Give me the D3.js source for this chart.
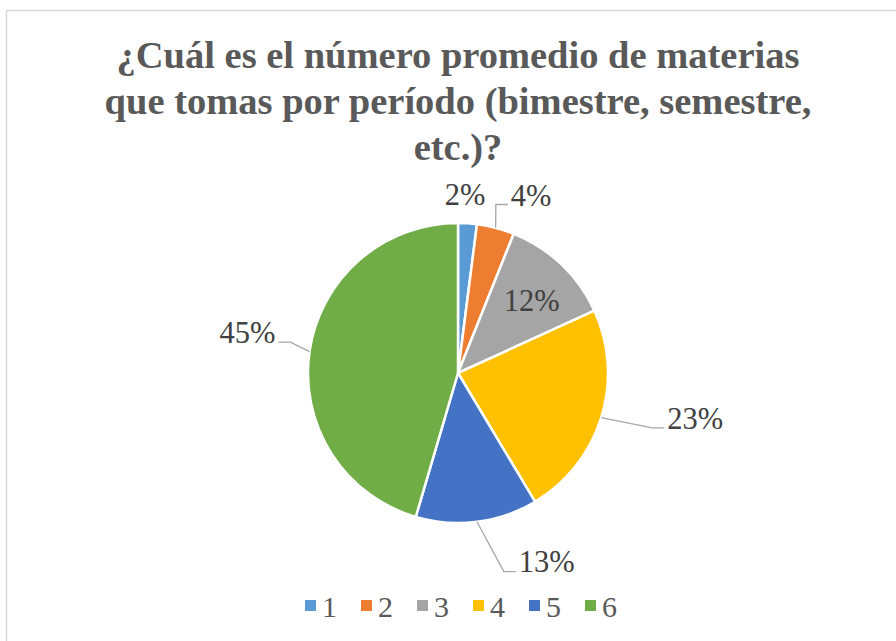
<!DOCTYPE html>
<html>
<head>
<meta charset="utf-8">
<script src="https://cdn.jsdelivr.net/npm/d3@7"></script>
<style>
  html, body { margin: 0; padding: 0; background: #fff; }
  svg { display: block; }
</style>
</head>
<body>
<svg id="chart" width="896" height="641"></svg>
<script>
// ---- data ----
const categories = ["1", "2", "3", "4", "5", "6"];
const values = [2, 4, 12, 23, 13, 45];
const labels = ["2%", "4%", "12%", "23%", "13%", "45%"];
const colors = ["#5b9bd5", "#ed7d31", "#a5a5a5", "#ffc000", "#4472c4", "#70ad47"];
const titleLines = ["¿Cuál es el número promedio de materias", "que tomas por período (bimestre, semestre,", "etc.)?"];

// ---- layout (label placement: radius factor, angle in degrees) ----
const labelLayout = [
  { rf: 1.19, ang: 2.3,   leader: false },
  { rf: 1.28, ang: 22.4,  leader: true, side: "right" },
  { rf: 0.69, ang: 45.4,  leader: false },
  { rf: 1.61, ang: 100.7, leader: true, side: "right" },
  { rf: 1.39, ang: 154.8, leader: true, side: "right" },
  { rf: 1.43, ang: 281.0, leader: true, side: "left" }
];

const FONT = "'Liberation Serif', 'Times New Roman', serif";
const svg = d3.select("#chart");
const W = 896, H = 641;

svg.append("rect").attr("x", 6.5).attr("y", 10.5).attr("width", W).attr("height", H)
  .attr("fill", "#fff").attr("stroke", "#d9d9d9").attr("stroke-width", 1.5);

const title = svg.append("text").attr("text-anchor", "middle")
  .attr("font-family", FONT)
  .attr("font-weight", "bold").attr("font-size", 38.5).attr("fill", "#595959");
titleLines.forEach((t, i) => {
  title.append("tspan").attr("x", 458).attr("y", 68 + i * 46).text(t);
});

const cx = 458, cy = 373, R = 150;
const g = svg.append("g").attr("transform", `translate(${cx},${cy})`);

const pie = d3.pie().sort(null).value(d => d)(values);
const arc = d3.arc().innerRadius(0).outerRadius(R);

g.selectAll("path.slice").data(pie).enter().append("path")
  .attr("class", "slice")
  .attr("d", arc)
  .attr("fill", (d, i) => colors[i])
  .attr("stroke", "#fff").attr("stroke-width", 2.5).attr("stroke-linejoin", "round");

const rad = a => a * Math.PI / 180;
pie.forEach((d, i) => {
  const L = labelLayout[i];
  const lx = L.rf * R * Math.sin(rad(L.ang));
  const ly = -L.rf * R * Math.cos(rad(L.ang));
  const t = g.append("text").attr("x", lx).attr("y", ly).attr("dy", "0.35em")
    .attr("font-family", FONT)
    .attr("text-anchor", "middle").attr("font-size", 30.5)
    .attr("fill", "#404040").text(labels[i]);
  if (L.leader) {
    const mid = (d.startAngle + d.endAngle) / 2;
    const ax = R * Math.sin(mid), ay = -R * Math.cos(mid);
    const tw = t.node().getComputedTextLength();
    let ex, ey, bx;
    if (L.side === "right") {
      ex = lx - tw / 2 - 3; ey = ly + (i === 1 ? 9 : 10); bx = ex - 12;
    } else {
      ex = lx + tw / 2 + 3; ey = ly + 10; bx = ex + 12;
    }
    g.append("polyline")
      .attr("points", `${ax},${ay} ${bx},${ey} ${ex},${ey}`)
      .attr("fill", "none").attr("stroke", "#a6a6a6").attr("stroke-width", 1.3);
  }
});

const legend = svg.append("g");
const lx0 = 305, step = 56, ly0 = 606;
categories.forEach((c, i) => {
  const x = lx0 + i * step;
  legend.append("rect").attr("x", x).attr("y", ly0 - 6).attr("width", 11).attr("height", 11)
    .attr("fill", colors[i]);
  legend.append("text").attr("x", x + 17).attr("y", ly0).attr("dy", "0.35em")
    .attr("font-family", FONT)
    .attr("font-size", 30).attr("fill", "#595959").text(c);
});
</script>
</body>
</html>
